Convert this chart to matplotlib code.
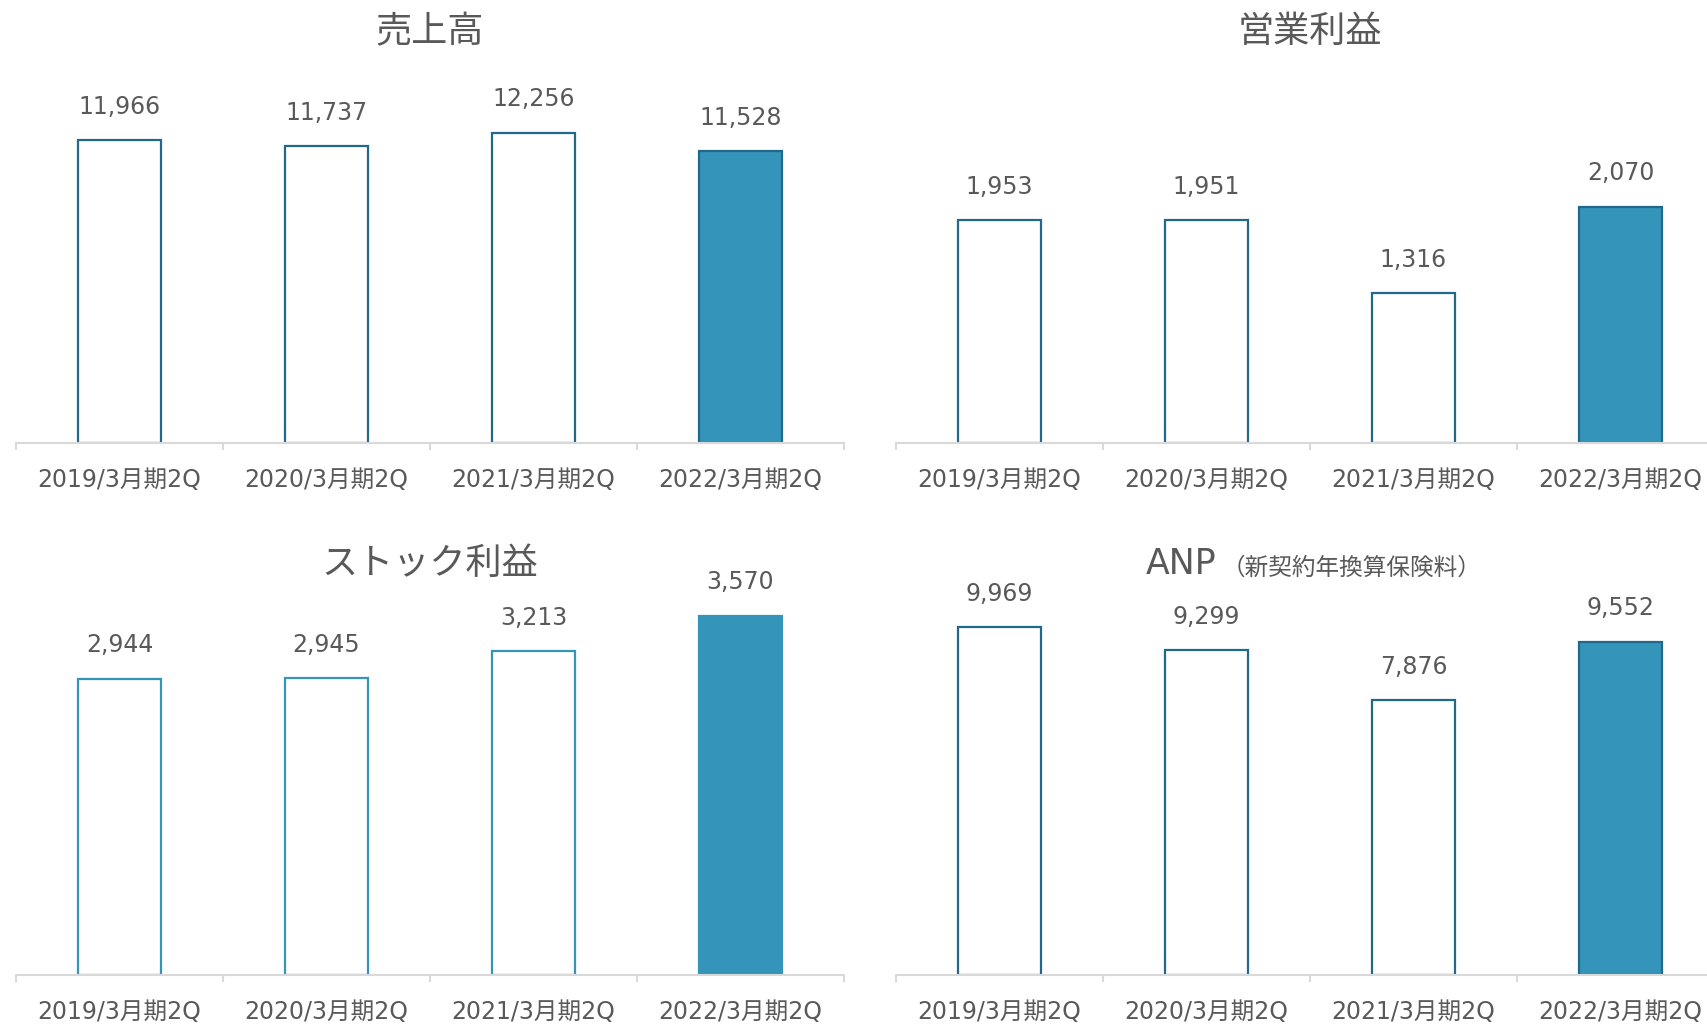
import matplotlib
matplotlib.use("Agg")
import matplotlib.pyplot as plt

plt.rcParams["font.family"] = ["DejaVu Sans", "Noto Sans CJK JP"]

# ── Data ──────────────────────────────────────────────────────────────────────
periods = ["2019/3月期2Q", "2020/3月期2Q", "2021/3月期2Q", "2022/3月期2Q"]
sales = [11966, 11737, 12256, 11528]
op_profit = [1953, 1951, 1316, 2070]
stock_profit = [2944, 2945, 3213, 3570]
anp = [9969, 9299, 7876, 9552]

C_TEXT = "#595959"
C_AXIS = "#d9d9d9"
C_FILL = "#3494ba"
C_EDGE_DARK = "#21698a"
C_EDGE_LIGHT = "#3494ba"
CJK = ["Noto Sans CJK JP", "DejaVu Sans"]

W, H = 1708, 1026
fig = plt.figure(figsize=(W / 100, H / 100), dpi=100)


def px_axes(x0, y_top, x1, y_bottom):
    return fig.add_axes([x0 / W, 1 - y_bottom / H, (x1 - x0) / W, (y_bottom - y_top) / H])


def draw_panel(ax, values, ymax, edge):
    x = range(len(values))
    for i, v in zip(x, values):
        last = i == len(values) - 1
        ax.bar(i, v, width=0.4,
               facecolor=C_FILL if last else "white",
               edgecolor=edge, linewidth=1.6, zorder=2)
        ax.annotate(f"{v:,}", (i, v), xytext=(0, 24), textcoords="offset points",
                    ha="center", va="center", fontsize=17, color=C_TEXT)
    ax.set_xlim(-0.5, len(values) - 0.5)
    ax.set_ylim(0, ymax)
    ax.set_yticks([])
    for s in ("top", "right", "left"):
        ax.spines[s].set_visible(False)
    ax.spines["bottom"].set_color(C_AXIS)
    ax.spines["bottom"].set_linewidth(1.5)
    ax.set_xticks(list(x))
    ax.set_xticklabels(periods, fontsize=17, color=C_TEXT)
    ax.set_xticks([i - 0.5 for i in range(len(values) + 1)], minor=True)
    ax.tick_params(axis="x", which="major", length=0, pad=18)
    ax.tick_params(axis="x", which="minor", length=5, width=1.5, color=C_AXIS)
    ax.set_facecolor("none")


ax1 = px_axes(16, 65, 844, 443)
draw_panel(ax1, sales, 14930, C_EDGE_DARK)
ax2 = px_axes(896, 65, 1724, 443)
draw_panel(ax2, op_profit, 3313, C_EDGE_DARK)
ax3 = px_axes(16, 597, 844, 975)
draw_panel(ax3, stock_profit, 3754, C_EDGE_LIGHT)
ax4 = px_axes(896, 597, 1724, 975)
draw_panel(ax4, anp, 10831, C_EDGE_DARK)

# titles
fig.text(430 / W, 1 - 32 / H, "売上高", ha="center", va="center", fontsize=26,
         color=C_TEXT, family=CJK)
fig.text(1310 / W, 1 - 32 / H, "営業利益", ha="center", va="center", fontsize=26,
         color=C_TEXT, family=CJK)
fig.text(430 / W, 1 - 564 / H, "ストック利益", ha="center", va="center", fontsize=26,
         color=C_TEXT, family=CJK)
fig.text(1216 / W, 1 - 564 / H, "ANP", ha="right", va="center", fontsize=25, color=C_TEXT)
fig.text(1222 / W, 1 - 568 / H, "（新契約年換算保険料）", ha="left", va="center",
         fontsize=17, color=C_TEXT, family=CJK)

fig.savefig("out.png", dpi=100, facecolor="white")
